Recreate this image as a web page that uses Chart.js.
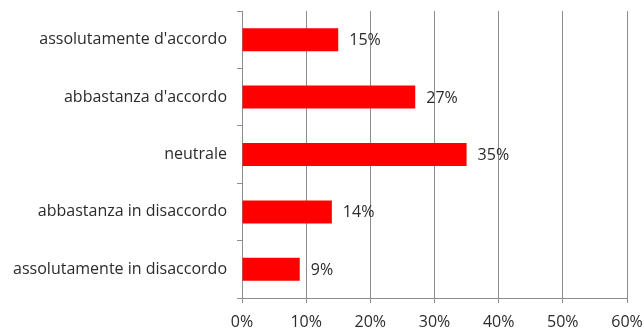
<!DOCTYPE html>
<html>
<head>
<meta charset="utf-8">
<script src="https://cdn.jsdelivr.net/npm/chart.js@4"></script>
<style>
  html, body { margin: 0; padding: 0; background: #fff; }
  #wrap { width: 644px; height: 333px; }
</style>
</head>
<body>
<div id="wrap"><canvas id="chart" width="644" height="333"></canvas></div>
<script>
// dati del grafico
const categorie = ["assolutamente d'accordo", "abbastanza d'accordo", "neutrale", "abbastanza in disaccordo", "assolutamente in disaccordo"];
const valori = [15, 27, 35, 14, 9];
const tickMax = 60;
const tickStep = 10;

const fontFam = '"Open Sans", "Liberation Sans", Arial, sans-serif';

// etichette dei valori a destra delle barre
const etichettePlugin = {
    id: 'etichette',
    afterDatasetsDraw(chart) {
        const ctx = chart.ctx;
        const meta = chart.getDatasetMeta(0);
        ctx.save();
        ctx.font = '16px ' + fontFam;
        ctx.fillStyle = '#2b2b2b';
        ctx.textAlign = 'left';
        ctx.textBaseline = 'middle';
        meta.data.forEach(function(bar, i) {
            ctx.fillText(valori[i] + '%', bar.x + 11, bar.y + 1);
        });
        ctx.restore();
    }
};

const grigio = '#8c8c8c';

new Chart(document.getElementById('chart'), {
    type: 'bar',
    data: {
        labels: categorie,
        datasets: [{
            data: valori,
            backgroundColor: '#ff0000',
            borderWidth: 0,
            categoryPercentage: 1,
            barPercentage: 0.4
        }]
    },
    options: {
        indexAxis: 'y',
        responsive: false,
        animation: false,
        layout: { padding: { top: 11, right: 17, left: 0, bottom: 0 } },
        plugins: {
            legend: { display: false },
            tooltip: { enabled: false }
        },
        scales: {
            x: {
                min: 0,
                max: tickMax,
                ticks: {
                    stepSize: tickStep,
                    padding: 10,
                    color: '#2b2b2b',
                    font: { family: fontFam, size: 16 },
                    callback: function(v) { return v + '%'; }
                },
                grid: { color: grigio, lineWidth: 1, tickLength: 5 },
                border: { color: grigio, width: 1 },
                afterFit: function(s) {
                    s.height = 35;
                    s.paddingLeft = 0;
                    s.paddingRight = 0;
                }
            },
            y: {
                ticks: {
                    padding: 10,
                    color: '#2b2b2b',
                    font: { family: fontFam, size: 16 }
                },
                grid: { drawOnChartArea: false, color: grigio, tickLength: 5 },
                border: { color: grigio, width: 1 },
                afterFit: function(s) {
                    s.width = 242;
                    s.paddingTop = 0;
                    s.paddingBottom = 0;
                }
            }
        }
    },
    plugins: [etichettePlugin]
});
</script>
</body>
</html>
